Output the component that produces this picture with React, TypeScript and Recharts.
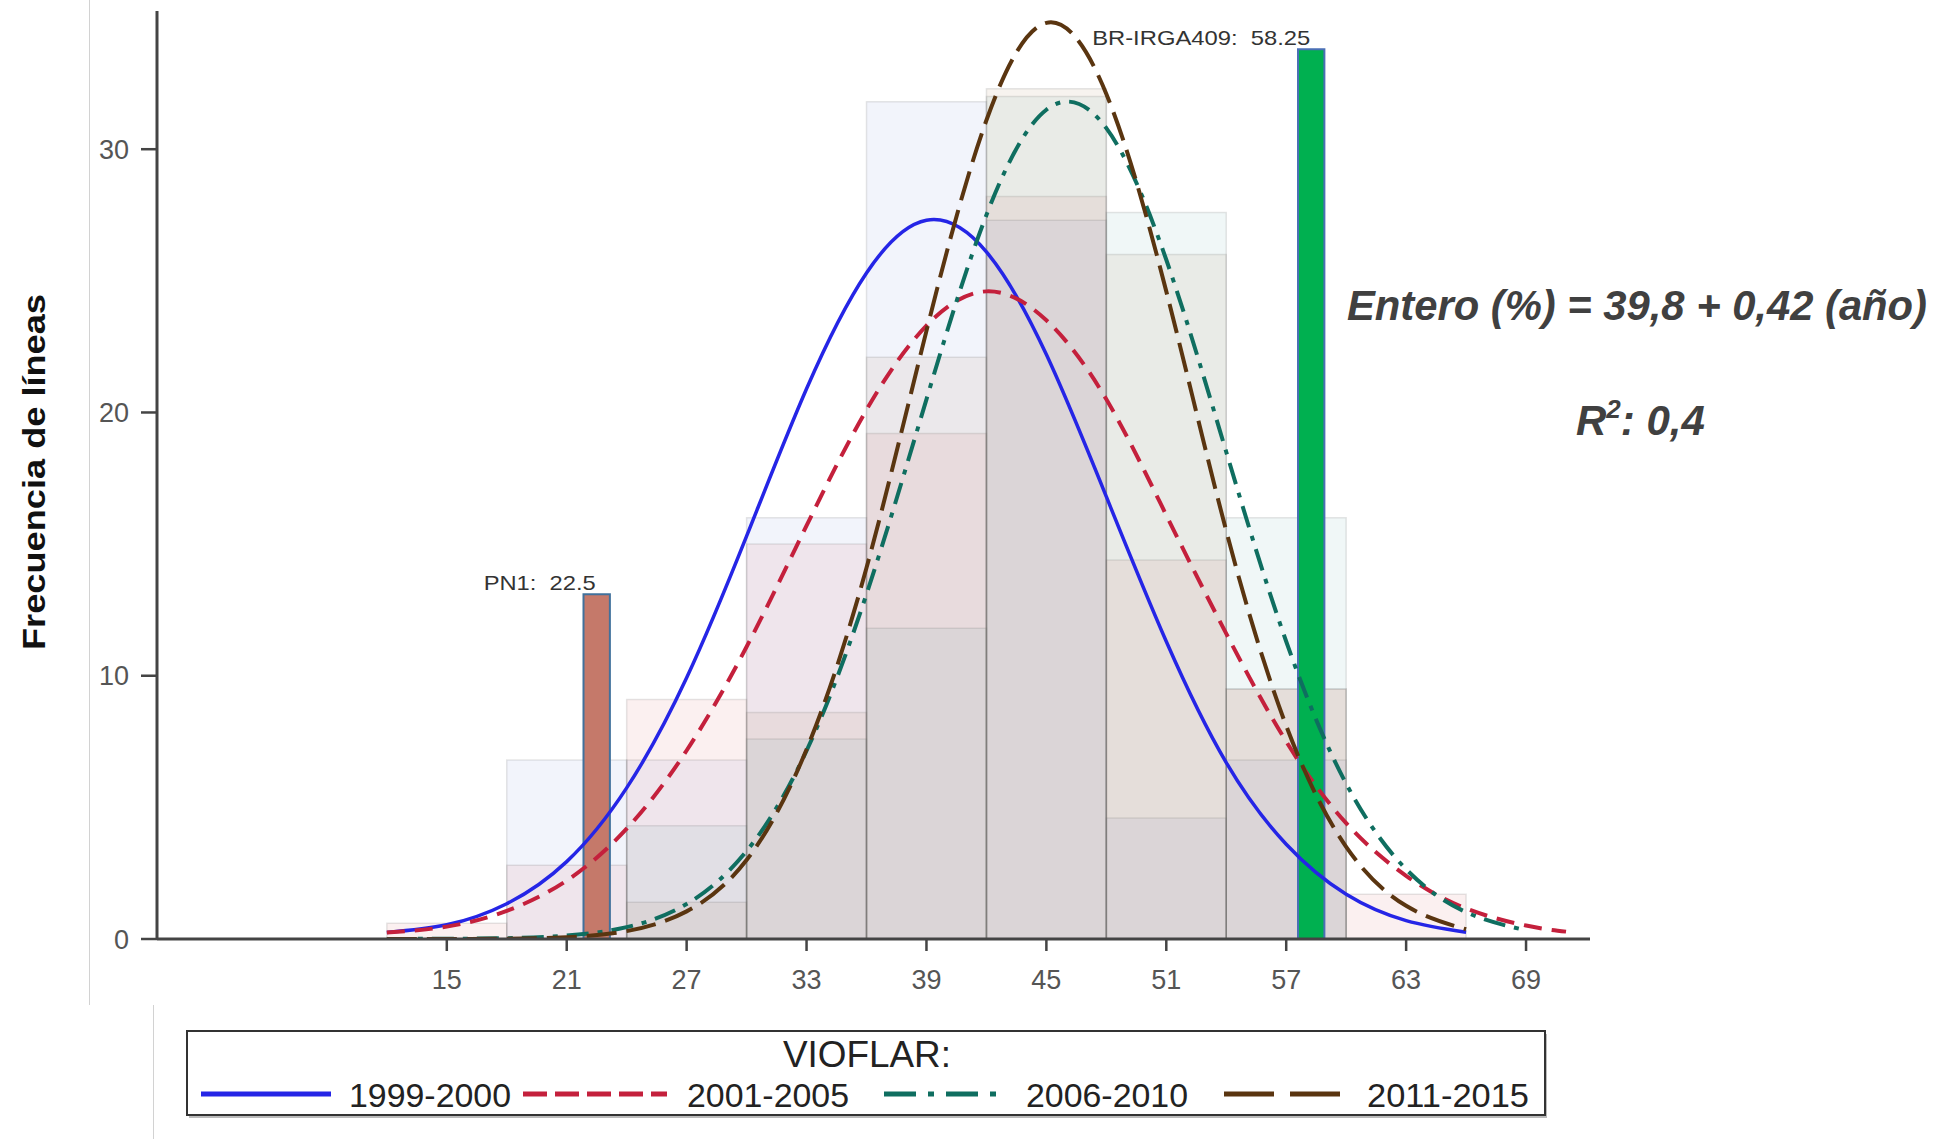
import React from "react";
import { ComposedChart, Line, XAxis, YAxis, ReferenceArea } from "recharts";

// ─── data ────────────────────────────────────────────────────────────────────

const periods = ["1999-2000", "2001-2005", "2006-2010", "2011-2015"];

// histogram classes, 6 units wide
const binStarts = [12, 18, 24, 30, 36, 42, 48, 54, 60];
const binWidth = 6;

const hist1999 = [0, 6.8, 6.8, 16.0, 31.8, 27.3, 4.6, 6.8, 0];
const hist2001 = [0.6, 2.8, 9.1, 15.0, 19.2, 28.2, 14.4, 9.5, 1.7];
const hist2006 = [0, 0, 4.3, 7.6, 11.8, 32.0, 27.6, 16.0, 0];
const hist2011 = [0, 0, 1.4, 8.6, 22.1, 32.3, 26.0, 9.5, 0];

// normal curves, sampled every 3 units
const curveX = [12, 15, 18, 21, 24, 27, 30, 33, 36, 39, 42, 45, 48, 51, 54, 57, 60, 63, 66, 69, 71];
const curve1999 = [0.25, 0.54, 1.34, 2.94, 5.74, 9.92, 15.3, 20.9, 25.3, 27.3, 26.1, 22.2, 16.8, 11.3, 6.7, 3.6, 1.7, 0.7, 0.26];
const curve2001 = [0.25, 0.47, 1.07, 2.22, 4.19, 7.16, 11.1, 15.7, 20.1, 23.3, 24.6, 23.5, 20.5, 16.1, 11.6, 7.5, 4.4, 2.4, 1.16, 0.51, 0.28];
const curve2006 = [0, 0.01, 0.03, 0.13, 0.45, 1.33, 3.34, 7.15, 13.1, 20.5, 27.5, 31.5, 30.8, 25.8, 18.5, 11.3, 5.9, 2.65, 1.02, 0.33];
const curve2011 = [0, 0, 0.01, 0.07, 0.3, 1.05, 3.0, 7.2, 14.1, 23.1, 31.1, 34.8, 32.1, 24.6, 15.5, 8.1, 3.5, 1.26, 0.37];

// reference varieties
const markerNames = ["PN1", "BR-IRGA409"];
const markerValues = [22.5, 58.25];
const markerHeights = [13.1, 33.8];

const xTicks = [15, 21, 27, 33, 39, 45, 51, 57, 63, 69];
const yTicks = [0, 10, 20, 30];

// ─── styles ─────────────────────────────────────────────────────────────────

const FONT = "'Liberation Sans', Arial, sans-serif";

const seriesStyle = [
  { fill: "#5577cc", stroke: "#2525e6", dash: undefined, width: 3.5, legendDash: undefined },
  { fill: "#cc4444", stroke: "#c4203c", dash: "18 10", width: 4, legendDash: "24 8" },
  { fill: "#449999", stroke: "#0f6e60", dash: "22 9 5 9", width: 4, legendDash: "32 12 6 12" },
  { fill: "#996633", stroke: "#5a3510", dash: "30 10", width: 4, legendDash: "50 16" },
];

const markerStyle = [
  { fill: "#c5796a", stroke: "#41719c", labelWidth: 112 },
  { fill: "#00b050", stroke: "#4a6fb5", labelWidth: 218 },
];

// legend item positions inside the legend box
const legendItems = [
  { x1: 15, x2: 145, tx: 163 },
  { x1: 337, x2: 481, tx: 501 },
  { x1: 698, x2: 813, tx: 840 },
  { x1: 1038, x2: 1160, tx: 1181 },
];

function toPoints(values: number[]) {
  return values.map((y, i) => ({ x: curveX[i], y }));
}

function YTitle(props: any) {
  const vb = props.viewBox || { y: 11, height: 928 };
  const cy = vb.y + vb.height / 2 - 3;
  return (
    <text
      x={34}
      y={cy}
      transform={`rotate(-90 34 ${cy})`}
      textAnchor="middle"
      dominantBaseline="central"
      fontSize={32}
      fontWeight="bold"
      fill="#111"
      fontFamily={FONT}
      textLength={356}
      lengthAdjust="spacingAndGlyphs"
    >
      Frecuencia de líneas
    </text>
  );
}

function markerLabel(text: string, width: number) {
  return (props: any) => {
    const vb = props.viewBox;
    if (!vb) return null;
    return (
      <text
        x={vb.x + vb.width / 2 - 1}
        y={vb.y - 4}
        textAnchor="end"
        fontSize={21}
        fill="#333"
        fontFamily={FONT}
        textLength={width}
        lengthAdjust="spacingAndGlyphs"
        style={{ whiteSpace: "pre" }}
      >
        {text}
      </text>
    );
  };
}

export default function App() {
  const hists = [hist1999, hist2001, hist2006, hist2011];
  const curves = [curve1999, curve2001, curve2006, curve2011];

  return (
    <div style={{ position: "absolute", left: 0, top: 0, width: 1941, height: 1139, background: "#fff" }}>
      <ComposedChart width={1941} height={1139} margin={{ top: 11, right: 351, bottom: 140, left: 0 }}>
        <XAxis
          type="number"
          dataKey="x"
          domain={[0.5, 72.2]}
          ticks={xTicks}
          allowDataOverflow
          height={60}
          axisLine={{ stroke: "#444", strokeWidth: 3 }}
          tickLine={{ stroke: "#444", strokeWidth: 2.5 }}
          tickSize={12}
          tickMargin={19}
          tick={{ fill: "#555", fontSize: 27, fontFamily: FONT }}
        />
        <YAxis
          type="number"
          domain={[0, 35.25]}
          ticks={yTicks}
          allowDataOverflow
          width={157}
          axisLine={{ stroke: "#444", strokeWidth: 3 }}
          tickLine={{ stroke: "#444", strokeWidth: 2.5 }}
          tickSize={16}
          tickMargin={12}
          tick={{ fill: "#555", fontSize: 27, fontFamily: FONT }}
          label={{ content: YTitle }}
        />

        {hists.map((hist, s) =>
          hist.map((v, i) =>
            v > 0 ? (
              <ReferenceArea
                key={`h-${s}-${i}`}
                x1={binStarts[i]}
                x2={binStarts[i] + binWidth}
                y1={0}
                y2={v}
                fill={seriesStyle[s].fill}
                fillOpacity={0.08}
                stroke="#666"
                strokeOpacity={0.16}
                strokeWidth={1.5}
              />
            ) : null
          )
        )}

        {curves.map((c, s) => (
          <Line
            key={periods[s]}
            name={periods[s]}
            data={toPoints(c)}
            dataKey="y"
            type="natural"
            stroke={seriesStyle[s].stroke}
            strokeWidth={seriesStyle[s].width}
            strokeDasharray={seriesStyle[s].dash}
            dot={false}
            activeDot={false}
            isAnimationActive={false}
          />
        ))}

        {markerValues.map((m, i) => (
          <ReferenceArea
            key={markerNames[i]}
            x1={m - 0.66}
            x2={m + 0.66}
            y1={0}
            y2={markerHeights[i]}
            fill={markerStyle[i].fill}
            fillOpacity={1}
            stroke={markerStyle[i].stroke}
            strokeWidth={2}
            label={markerLabel(`${markerNames[i]}:  ${m}`, markerStyle[i].labelWidth)}
          />
        ))}
      </ComposedChart>

      {/* annotations outside the plot */}
      <svg width={1941} height={1139} style={{ position: "absolute", left: 0, top: 0, pointerEvents: "none" }}>
        <line x1={89.5} y1={0} x2={89.5} y2={1005} stroke="#d2d2d2" strokeWidth={1} />
        <line x1={153.5} y1={1005} x2={153.5} y2={1139} stroke="#d2d2d2" strokeWidth={1} />
        <text
          x={1347}
          y={320}
          fontSize={42}
          fontWeight="bold"
          fontStyle="italic"
          fill="#404040"
          fontFamily={FONT}
          textLength={580}
          lengthAdjust="spacingAndGlyphs"
        >
          Entero (%) = 39,8 + 0,42 (año)
        </text>
        <text x={1576} y={435} fontSize={42} fontWeight="bold" fontStyle="italic" fill="#404040" fontFamily={FONT}>
          <tspan>R</tspan>
          <tspan dy={-17} fontSize={26}>2</tspan>
          <tspan dy={17}>: 0,4</tspan>
        </text>
      </svg>

      {/* legend */}
      <svg width={1364} height={90} style={{ position: "absolute", left: 186, top: 1030 }}>
        <rect x={3} y={4} width={1358} height={84} fill="#bbb" />
        <rect x={1} y={1} width={1358} height={84} fill="#fff" stroke="#333" strokeWidth={2} />
        <text x={681} y={37} textAnchor="middle" fontSize={36} fill="#222" fontFamily={FONT} textLength={168} lengthAdjust="spacingAndGlyphs">
          VIOFLAR:
        </text>
        {legendItems.map((it, i) => (
          <g key={periods[i]}>
            <line
              x1={it.x1}
              x2={it.x2}
              y1={64}
              y2={64}
              stroke={seriesStyle[i].stroke}
              strokeWidth={5}
              strokeDasharray={seriesStyle[i].legendDash}
            />
            <text x={it.tx} y={77} fontSize={33} fill="#222" fontFamily={FONT} textLength={162} lengthAdjust="spacingAndGlyphs">
              {periods[i]}
            </text>
          </g>
        ))}
      </svg>
    </div>
  );
}
